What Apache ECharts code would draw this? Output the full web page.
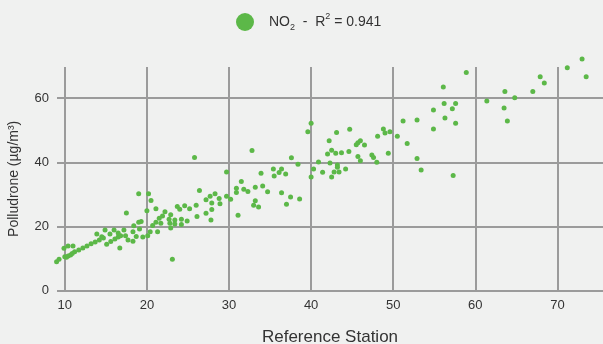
<!DOCTYPE html>
<html><head><meta charset="utf-8">
<script src="https://cdn.jsdelivr.net/npm/echarts@6/dist/echarts.min.js"></script>
<style>html,body{margin:0;padding:0;background:#f0f1f0}#c{width:603px;height:344px}</style>
</head><body><div id="c"></div>
<script>
const seriesName = 'NO2';
const rSquared = '0.941';
const xTitle = 'Reference Station';
const yTitle = 'Polludrone (µg/m³)';
const xValues = [
9.0,9.3,9.9,10.0,10.2,10.4,10.4,10.7,11.0,10.9,
11.2,11.7,12.2,12.7,13.2,13.7,14.2,14.7,15.1,15.6,16.1,16.5,16.8,
13.9,14.5,14.9,15.5,16.0,16.5,16.7,
17.2,17.5,17.4,17.7,18.3,18.3,18.4,18.7,19.0,19.0,19.1,19.3,19.5,20.0,20.1,20.2,20.4,20.5,20.7,21.1,
21.1,21.3,21.5,21.7,21.9,22.2,22.7,22.8,22.9,22.9,23.1,23.4,23.4,23.7,24.0,24.2,24.2,24.6,24.9,25.2,
25.8,26.0,26.1,26.4,27.2,27.2,27.7,27.9,27.9,27.8,28.3,28.8,28.9,29.7,29.7,30.2,30.9,30.9,31.1,31.5,
31.8,32.3,32.8,33.0,33.2,33.2,33.6,33.9,34.1,34.7,35.4,35.5,36.1,36.4,36.4,36.9,37.0,37.5,37.6,38.4,
38.6,39.6,40.0,40.0,40.3,40.9,41.4,42.0,42.2,42.3,42.5,42.5,42.8,43.0,43.1,43.2,43.2,43.4,43.7,44.2,
44.6,44.7,45.5,45.7,46.0,45.7,46.0,46.5,47.4,47.6,48.0,48.1,48.8,49.0,49.4,49.6,50.5,51.2,51.7,52.9,
52.9,53.4,54.9,54.9,56.1,56.2,56.3,57.2,57.3,57.6,57.6,58.9,61.4,63.6,63.5,63.9,64.8,67.0,67.9,68.4,
71.2,73.0,73.5
];
const yValues = [
9.0,9.8,13.2,10.6,10.4,13.9,10.8,11.1,13.9,11.6,
12.1,12.7,13.3,13.9,14.6,15.2,15.8,16.4,14.5,15.3,16.1,16.7,17.1,
17.7,16.8,18.9,17.7,18.9,18.0,13.3,
18.9,24.2,17.1,15.8,15.4,18.4,20.2,16.9,30.2,21.3,19.2,21.6,16.7,24.9,17.1,30.2,18.4,28.1,20.3,25.5,
21.3,18.4,22.6,21.0,23.3,24.6,22.3,21.0,23.7,19.5,9.8,22.0,20.8,26.2,25.4,22.3,20.6,26.5,21.7,25.5,
41.5,26.6,23.1,31.2,28.3,24.1,29.4,27.3,25.3,22.0,30.2,28.7,27.1,37.0,29.4,28.5,31.9,30.6,23.5,34.0,
31.6,30.9,43.7,26.6,32.2,28.0,26.1,36.6,32.6,30.8,37.9,35.7,36.8,37.9,30.5,36.4,26.9,29.2,41.4,39.4,
28.6,49.5,52.2,35.4,37.9,40.1,36.9,42.6,46.7,39.8,43.8,35.4,37.0,42.8,49.3,39.2,38.5,37.0,43.0,37.9,
43.4,50.3,45.5,46.1,46.7,41.8,40.5,45.4,42.3,41.5,40.0,48.1,50.4,49.1,42.8,49.5,48.1,52.9,45.9,41.2,
53.2,37.6,56.3,50.4,63.5,58.3,53.8,56.7,35.9,52.2,58.3,68.0,59.1,62.1,56.9,52.9,60.1,62.1,66.7,64.7,
69.5,72.2,66.7
];
const xRange = [9.05, 75.55];
const yRange = [0, 69.7];

const points = xValues.map((x, i) => [x, yValues[i]]);
const gridColor = '#9b9b9b';
const green = '#5cb848';
const font = "'Liberation Sans', Arial, sans-serif";
const clear = 'rgba(0,0,0,0)';

const chart = echarts.init(document.getElementById('c'));
chart.setOption({
  backgroundColor: '#f0f1f0',
  animation: false,
  textStyle: { fontFamily: font },
  legend: {
    left: 231, top: 7,
    icon: 'circle', itemWidth: 18, itemHeight: 18,
    data: [seriesName],
    formatter: () => 'NO{sub|2}  -  R{sup|2} = ' + rSquared,
    textStyle: {
      color: '#333', fontSize: 14, fontFamily: font, lineHeight: 20, padding: [0, 0, 0, 10],
      rich: {
        sub: { fontSize: 9, lineHeight: 9, verticalAlign: 'bottom', fontFamily: font, color: '#333' },
        sup: { fontSize: 9, lineHeight: 9, verticalAlign: 'top', fontFamily: font, color: '#333' }
      }
    }
  },
  grid: { left: 57, right: 0, top: 67, bottom: 53.3, outerBoundsMode: 'none', containLabel: false },
  xAxis: {
    type: 'value', min: xRange[0], max: xRange[1], splitNumber: 7,
    name: xTitle, nameLocation: 'middle', nameGap: 38,
    nameTextStyle: { fontSize: 17, color: '#333', fontFamily: font },
    axisLine: { show: false }, axisTick: { show: false },
    axisLabel: { color: '#333', fontSize: 13, margin: 8, showMinLabel: false, showMaxLabel: false },
    splitLine: { show: true, lineStyle: { width: 2, color: [clear, gridColor, gridColor, gridColor, gridColor, gridColor, gridColor, gridColor, clear] } }
  },
  yAxis: {
    type: 'value', min: yRange[0], max: yRange[1], interval: 20,
    name: yTitle, nameLocation: 'middle', nameGap: 36,
    nameTextStyle: { fontSize: 14, color: '#333', fontFamily: font },
    axisLine: { show: false }, axisTick: { show: false },
    axisLabel: { color: '#333', fontSize: 13, margin: 8, showMaxLabel: false },
    splitLine: { show: true, lineStyle: { width: 2, color: [gridColor, gridColor, gridColor, gridColor, clear] } }
  },
  series: [{
    name: seriesName, type: 'scatter', data: points, clip: false,
    symbolSize: 5, itemStyle: { color: green, opacity: 1 }
  }]
});
</script>
</body></html>
